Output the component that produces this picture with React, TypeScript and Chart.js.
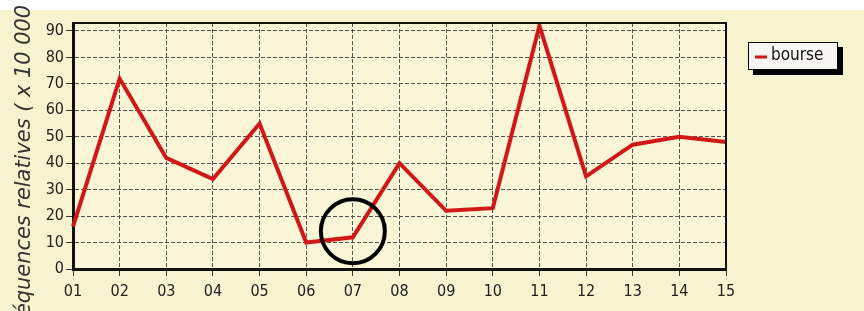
import React, { useEffect, useRef } from "react";
import { Chart, registerables } from "chart.js";

Chart.register(...registerables);

const categories = ["01", "02", "03", "04", "05", "06", "07", "08", "09", "10", "11", "12", "13", "14", "15"];
const bourse = [16, 72, 42, 34, 55, 10, 12, 40, 22, 23, 92, 35, 47, 50, 48];
const yMin = 0;
const yMax = 93;
const yStep = 10;
const seriesName = "bourse";
const yTitle = "Fréquences relatives ( x 10 000 )";
const markedIndex = 6;
const markedValue = 14.3;

const W = 864;
const H = 311;
const FONT = "'DejaVu Sans Condensed', 'DejaVu Sans', sans-serif";
const TITLE_FONT = "'DejaVu Sans', sans-serif";

const decorPlugin = {
  id: "decor",
  beforeDraw(chart: any) {
    const ctx = chart.ctx;
    const a = chart.chartArea;
    ctx.save();
    ctx.fillStyle = "#ffffff";
    ctx.fillRect(0, 0, W, 10);
    ctx.fillStyle = "#f7f3cf";
    ctx.fillRect(0, 10, W, H - 10);
    ctx.fillStyle = "#f9f5d6";
    ctx.fillRect(a.left, a.top, a.right - a.left, a.bottom - a.top);
    ctx.restore();
  },
  afterDraw(chart: any) {
    const ctx = chart.ctx;
    const a = chart.chartArea;
    ctx.save();
    // top & right frame
    ctx.strokeStyle = "#111";
    ctx.lineWidth = 2;
    ctx.beginPath();
    ctx.moveTo(a.left, a.top);
    ctx.lineTo(a.right, a.top);
    ctx.lineTo(a.right, a.bottom);
    ctx.stroke();

    // circle marker
    const cx = chart.scales.x.getPixelForValue(markedIndex);
    const cy = chart.scales.y.getPixelForValue(markedValue);
    ctx.strokeStyle = "#000";
    ctx.lineWidth = 4;
    ctx.beginPath();
    ctx.arc(cx, cy, 32, 0, Math.PI * 2);
    ctx.stroke();

    // legend
    const lx = 748, ly = 42, lw = 90, lh = 28;
    ctx.fillStyle = "#000";
    ctx.fillRect(lx + 5, ly + 5, lw, lh);
    ctx.fillStyle = "#f6f5f2";
    ctx.fillRect(lx, ly, lw, lh);
    ctx.strokeStyle = "#000";
    ctx.lineWidth = 1;
    ctx.strokeRect(lx + 0.5, ly + 0.5, lw - 1, lh - 1);
    ctx.strokeStyle = "#d01818";
    ctx.lineWidth = 3;
    ctx.beginPath();
    ctx.moveTo(lx + 7, ly + 15);
    ctx.lineTo(lx + 19, ly + 15);
    ctx.stroke();
    ctx.fillStyle = "#111";
    ctx.font = `17px ${FONT}`;
    ctx.textBaseline = "middle";
    ctx.textAlign = "left";
    ctx.fillText(seriesName, lx + 23, ly + 14);

    // y title
    ctx.font = `italic 22px ${TITLE_FONT}`;
    ctx.fillStyle = "#333";
    const f = 0.95;
    const pre = ctx.measureText("Fr").width * f;
    ctx.translate(30, 316 + pre);
    ctx.rotate(-Math.PI / 2);
    ctx.scale(f, 1);
    ctx.textAlign = "left";
    ctx.textBaseline = "alphabetic";
    ctx.fillText(yTitle, 0, 0);
    ctx.restore();
  },
};

export default function App() {
  const ref = useRef<HTMLCanvasElement>(null);
  useEffect(() => {
    const canvas = ref.current;
    if (!canvas) return;
    const chart = new Chart(canvas, {
      type: "line",
      data: {
        labels: categories,
        datasets: [
          {
            label: seriesName,
            data: bourse,
            borderColor: "#d01818",
            backgroundColor: "#d01818",
            borderWidth: 4,
            pointRadius: 0,
            tension: 0,
          },
        ],
      },
      options: {
        animation: false,
        responsive: false,
        devicePixelRatio: 1,
        layout: { padding: { top: 23, right: 138, left: 0, bottom: 0 } },
        plugins: { legend: { display: false }, tooltip: { enabled: false } },
        scales: {
          x: {
            offset: false,
            afterFit(scale: any) {
              scale.height = 42;
            },
            grid: {
              color: "#555",
              lineWidth: 1,
              tickLength: 7,
              tickColor: "#333",
              tickBorderDash: [],
            },
            border: { display: true, color: "#111", width: 3, dash: [4, 2] },
            ticks: {
              color: "#222",
              font: { family: FONT, size: 16 },
              padding: 6,
              maxRotation: 0,
              autoSkip: false,
            },
          },
          y: {
            min: yMin,
            max: yMax,
            afterFit(scale: any) {
              scale.width = 73;
            },
            grid: {
              color: "#555",
              lineWidth: 1,
              tickLength: 7,
              tickColor: "#333",
              tickBorderDash: [],
            },
            border: { display: true, color: "#111", width: 3, dash: [4, 2] },
            ticks: {
              stepSize: yStep,
              includeBounds: false,
              color: "#222",
              font: { family: FONT, size: 16 },
              padding: 2,
            },
          },
        },
      },
      plugins: [decorPlugin],
    } as any);
    return () => chart.destroy();
  }, []);
  return (
    <div style={{ position: "absolute", left: 0, top: 0, width: W, height: H }}>
      <canvas ref={ref} width={W} height={H} style={{ width: W, height: H, display: "block" }} />
    </div>
  );
}
